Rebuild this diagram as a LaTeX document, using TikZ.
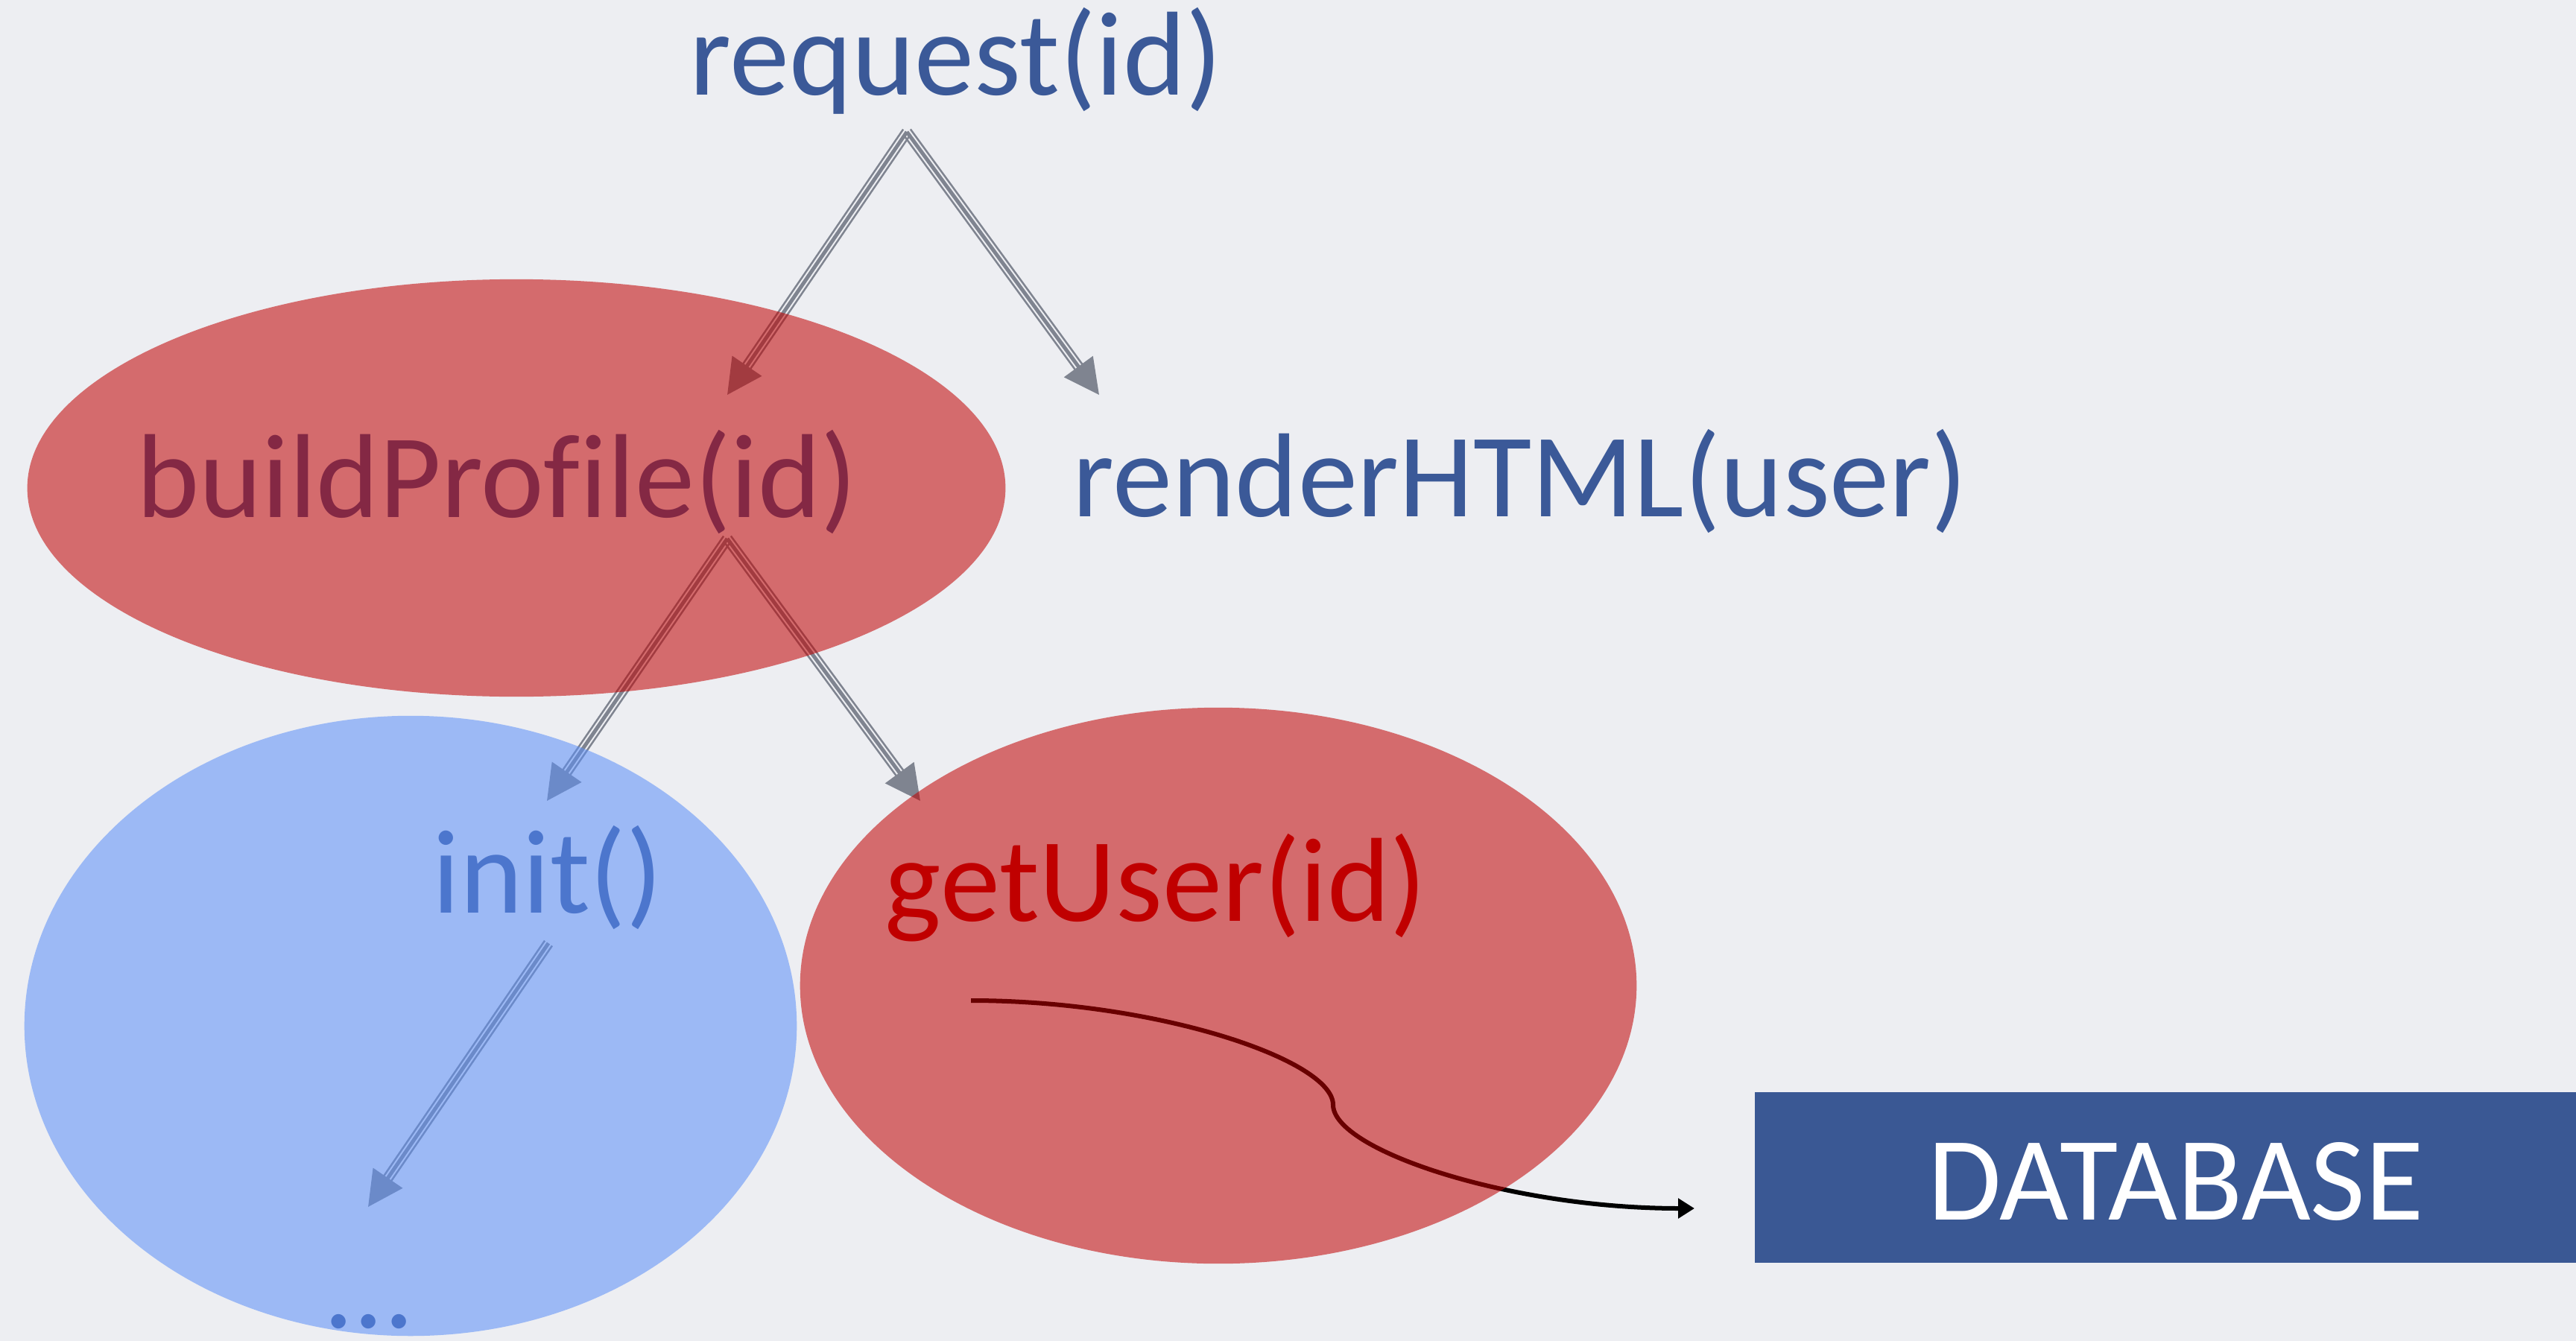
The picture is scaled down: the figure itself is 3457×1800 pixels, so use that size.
\documentclass[tikz,border=0pt]{standalone}
\usepackage{fontspec}
\setmainfont{Carlito}[Ligatures=NoCommon]
\usetikzlibrary{arrows.meta,calc}
\definecolor{bg}{HTML}{EDEEF2}
\definecolor{textblue}{HTML}{3B5998}
\definecolor{deepred}{HTML}{C00000}
\definecolor{ellblue}{HTML}{5B8FF9}
\definecolor{dbblue}{HTML}{3A5894}
\definecolor{arrowgray}{HTML}{7F8490}
\newcommand\triarrow[2]{%
  \draw[arrowside] ($(#1)!0.06cm!90:(#2)$) -- ($(#2)!0.06cm!-90:(#1)$);
  \draw[arrowside] ($(#1)!0.06cm!-90:(#2)$) -- ($(#2)!0.06cm!90:(#1)$);
  \draw[arrowmain] (#1) -- (#2);}
\begin{document}
\begin{tikzpicture}[x=0.01cm,y=-0.01cm,
  txt/.style={anchor=base, inner sep=0pt, font=\fontsize{45.6}{54}\selectfont, text=textblue},
  arrowmain/.style={draw=arrowgray, line width=0.05cm, -{Triangle[length=0.47cm,width=0.47cm]}},
  arrowside/.style={draw=arrowgray, line width=0.025cm, shorten >=0.42cm},
  callline/.style={draw=black, line width=0.06cm, -{Triangle[length=0.22cm,width=0.26cm]}},
  redell/.style={fill=deepred, fill opacity=0.55},
  blueell/.style={fill=ellblue, fill opacity=0.55}]
\fill[bg] (0,0) rectangle (3457,1800);
\useasboundingbox (0,0) rectangle (3457,1800);
% texts
\node[txt] (req) at (1283,128) {request(id)};
\node[txt] (bp) at (667,694) {buildProfile(id)};
\node[txt] (rh) at (2040,693) {renderHTML(user)};
\node[txt] (init) at (735,1225) {init()};
\node[txt, text=deepred] (gu) at (1551,1236) {getUser(id)};
\node[txt] (dots) at (495,1782) {...};
% connector end points
\coordinate (reqout) at (1217,177);
\coordinate (bpin) at (976,530);
\coordinate (rhin) at (1475,530);
\coordinate (bpout) at (976,723);
\coordinate (initin) at (734,1075);
\coordinate (guin) at (1235,1075);
\coordinate (initout) at (736,1266);
\coordinate (dotsin) at (494,1620);
\coordinate (guout) at (1303,1343);
\coordinate (bend) at (1789,1483);
\coordinate (dbin) at (2274,1622);
% arrows
\triarrow{reqout}{bpin}
\triarrow{reqout}{rhin}
\triarrow{bpout}{initin}
\triarrow{bpout}{guin}
\triarrow{initout}{dotsin}
\draw[callline] (guout) .. controls (1553,1343) and (1789,1423) .. (bend)
  .. controls (1789,1543) and (2024,1622) .. (dbin);
% ellipses
\fill[redell] (693,655) ellipse [x radius=6.56cm, y radius=2.80cm];
\fill[blueell] (551,1377) ellipse [x radius=5.18cm, y radius=4.16cm];
\fill[redell] (1635,1323) ellipse [x radius=5.61cm, y radius=3.73cm];
% database
\node[fill=dbblue, minimum width=11.02cm, minimum height=2.29cm, inner sep=0pt] (db) at (2906,1580.5) {};
\node[txt, text=white] (dbtext) at (2920,1637) {DATABASE};
\end{tikzpicture}
\end{document}
